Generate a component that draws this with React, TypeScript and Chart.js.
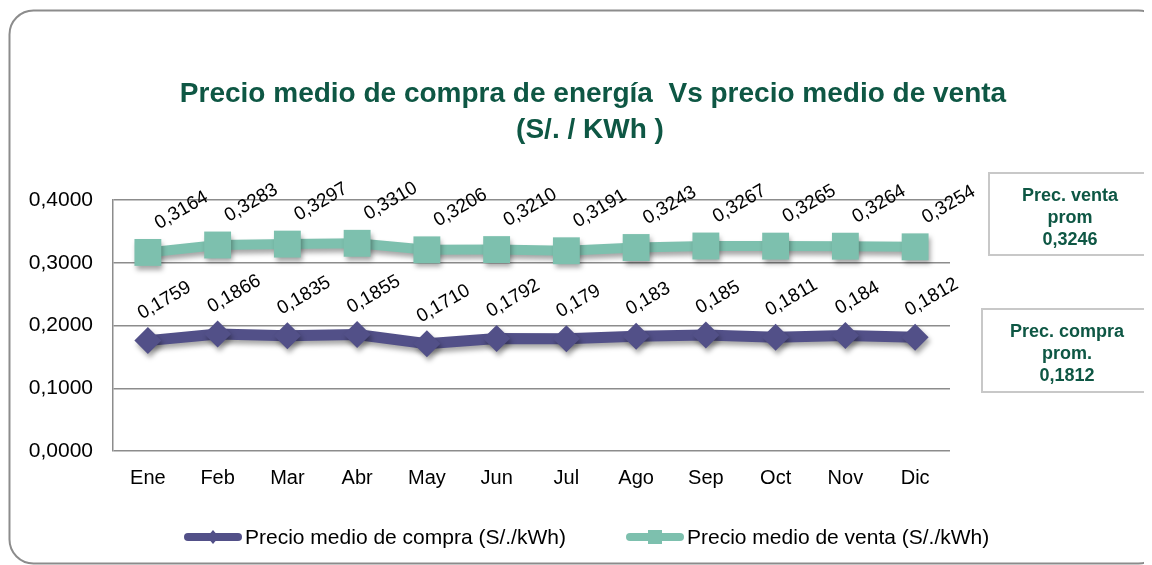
import React, { useEffect, useRef } from "react";
import { Chart, registerables } from "chart.js";

Chart.register(...registerables);

const months = ["Ene", "Feb", "Mar", "Abr", "May", "Jun", "Jul", "Ago", "Sep", "Oct", "Nov", "Dic"];
const compra = [0.1759, 0.1866, 0.1835, 0.1855, 0.171, 0.1792, 0.179, 0.183, 0.185, 0.1811, 0.184, 0.1812];
const venta = [0.3164, 0.3283, 0.3297, 0.331, 0.3206, 0.321, 0.3191, 0.3243, 0.3267, 0.3265, 0.3264, 0.3254];
const compraLabels = ["0,1759", "0,1866", "0,1835", "0,1855", "0,1710", "0,1792", "0,179", "0,183", "0,185", "0,1811", "0,184", "0,1812"];
const ventaLabels = ["0,3164", "0,3283", "0,3297", "0,3310", "0,3206", "0,3210", "0,3191", "0,3243", "0,3267", "0,3265", "0,3264", "0,3254"];
const yTicks = [0, 0.1, 0.2, 0.3, 0.4];
const seriesNames = ["Precio medio de compra (S/./kWh)", "Precio medio de venta (S/./kWh)"];
const titleLines = ["Precio medio de compra de energía  Vs precio medio de venta", "(S/. / KWh )"];
const ventaBox = ["Prec. venta", "prom", "0,3246"];
const compraBox = ["Prec. compra", "prom.", "0,1812"];

const FONT = "'Liberation Sans', Arial, sans-serif";
const C_COMPRA = "#525088";
const C_VENTA = "#7DC0AE";
const C_TITLE = "#0E5744";

const W = 1144;
const H = 557;

function roundRect(ctx: CanvasRenderingContext2D, x: number, y: number, w: number, h: number, r: number) {
  ctx.beginPath();
  ctx.moveTo(x + r, y);
  ctx.lineTo(x + w - r, y);
  ctx.arcTo(x + w, y, x + w, y + r, r);
  ctx.lineTo(x + w, y + h - r);
  ctx.arcTo(x + w, y + h, x + w - r, y + h, r);
  ctx.lineTo(x + r, y + h);
  ctx.arcTo(x, y + h, x, y + h - r, r);
  ctx.lineTo(x, y + r);
  ctx.arcTo(x, y, x + r, y, r);
  ctx.closePath();
}

const decorPlugin = {
  id: "decor",
  beforeDraw(chart: any) {
    const ctx = chart.ctx as CanvasRenderingContext2D;
    ctx.save();
    ctx.fillStyle = "#ffffff";
    ctx.fillRect(0, 0, chart.width, chart.height);
    // outer rounded frame
    ctx.strokeStyle = "#8c8c8c";
    ctx.lineWidth = 2;
    roundRect(ctx, 1.5, 2.5, 1153, 553, 24);
    ctx.stroke();
    // title
    ctx.fillStyle = C_TITLE;
    ctx.font = `bold 28px ${FONT}`;
    ctx.textAlign = "center";
    ctx.textBaseline = "middle";
    ctx.fillText(titleLines[0], 585, 86);
    ctx.fillText(titleLines[1], 582, 122);
    // side boxes
    const drawBox = (x: number, y: number, w: number, h: number, lines: string[], cx: number, ys: number[]) => {
      ctx.strokeStyle = "#c8c8c8";
      ctx.lineWidth = 2;
      ctx.strokeRect(x, y, w, h);
      ctx.fillStyle = C_TITLE;
      ctx.font = `bold 18px ${FONT}`;
      lines.forEach((t, i) => ctx.fillText(t, cx, ys[i]));
    };
    drawBox(981, 165, 157, 82, ventaBox, 1062, [188, 210, 232]);
    drawBox(974, 301, 164, 83, compraBox, 1059, [324, 346, 368]);
    // legend
    const drawLegend = (x: number, y: number, color: string, style: string, text: string) => {
      ctx.strokeStyle = color;
      ctx.lineWidth = 8;
      ctx.lineCap = "round";
      ctx.beginPath();
      ctx.moveTo(x + 4, y);
      ctx.lineTo(x + 54, y);
      ctx.stroke();
      ctx.fillStyle = color;
      ctx.beginPath();
      if (style === "diamond") {
        ctx.moveTo(x + 29, y - 7);
        ctx.lineTo(x + 35, y);
        ctx.lineTo(x + 29, y + 7);
        ctx.lineTo(x + 23, y);
        ctx.closePath();
      } else {
        ctx.rect(x + 22, y - 7, 14, 14);
      }
      ctx.fill();
      ctx.fillStyle = "#000000";
      ctx.font = `21px ${FONT}`;
      ctx.textAlign = "left";
      ctx.textBaseline = "middle";
      ctx.fillText(text, x + 61, y + 1);
    };
    drawLegend(176, 529, C_COMPRA, "diamond", seriesNames[0]);
    drawLegend(618, 529, C_VENTA, "square", seriesNames[1]);
    ctx.restore();
  },
  beforeDatasetsDraw(chart: any) {
    const ctx = chart.ctx as CanvasRenderingContext2D;
    ctx.save();
    ctx.shadowColor = "rgba(0,0,0,0.35)";
    ctx.shadowBlur = 5;
    ctx.shadowOffsetX = 2;
    ctx.shadowOffsetY = 4;
  },
  afterDatasetsDraw(chart: any) {
    const ctx = chart.ctx as CanvasRenderingContext2D;
    ctx.restore();
    ctx.save();
    ctx.fillStyle = "#000000";
    ctx.font = `19px ${FONT}`;
    ctx.textAlign = "left";
    ctx.textBaseline = "alphabetic";
    const labelSets = [compraLabels, ventaLabels];
    const offsets = [[-6, -21], [11, -23]];
    chart.data.datasets.forEach((_: any, di: number) => {
      const meta = chart.getDatasetMeta(di);
      meta.data.forEach((pt: any, i: number) => {
        ctx.save();
        ctx.translate(pt.x + offsets[di][0], pt.y + offsets[di][1]);
        ctx.rotate((-30 * Math.PI) / 180);
        ctx.fillText(labelSets[di][i], 0, 0);
        ctx.restore();
      });
    });
    ctx.restore();
  },
};

export default function App() {
  const ref = useRef<HTMLCanvasElement | null>(null);
  useEffect(() => {
    if (!ref.current) return;
    const chart = new Chart(ref.current, {
      type: "line",
      data: {
        labels: months,
        datasets: [
          {
            label: seriesNames[0],
            data: compra,
            borderColor: C_COMPRA,
            backgroundColor: C_COMPRA,
            borderWidth: 11,
            pointStyle: "rectRot",
            pointRadius: 13.5,
            pointBorderWidth: 0,
            pointBackgroundColor: C_COMPRA,
            tension: 0,
          },
          {
            label: seriesNames[1],
            data: venta,
            borderColor: C_VENTA,
            backgroundColor: C_VENTA,
            borderWidth: 10,
            pointStyle: "rect",
            pointRadius: 19,
            pointBorderWidth: 0,
            pointBackgroundColor: C_VENTA,
            tension: 0,
          },
        ],
      },
      options: {
        animation: false,
        responsive: false,
        events: [],
        layout: { padding: { left: 0, top: 192, right: 202, bottom: 74 } },
        plugins: {
          legend: { display: false },
          title: { display: false },
          tooltip: { enabled: false },
        },
        scales: {
          x: {
            type: "category",
            offset: true,
            grid: { display: false, drawTicks: false },
            border: { display: false },
            ticks: { color: "#000", font: { family: FONT, size: 20 }, padding: 15 },
            afterFit: (s: any) => {
              s.height = 40;
            },
          },
          y: {
            min: 0,
            max: 0.4,
            afterBuildTicks: (s: any) => {
              s.ticks = yTicks.map((v) => ({ value: v }));
            },
            grid: { color: "#8c8c8c", lineWidth: 1.5, drawTicks: false },
            border: { display: true, color: "#8c8c8c", width: 1.5 },
            ticks: {
              color: "#000",
              font: { family: FONT, size: 21 },
              padding: 20,
              callback: (v: any) => Number(v).toFixed(4).replace(".", ","),
            },
            afterFit: (s: any) => {
              s.width = 105;
            },
          },
        },
      },
      plugins: [decorPlugin],
    });
    return () => chart.destroy();
  }, []);
  return (
    <div style={{ width: W, height: H }}>
      <canvas ref={ref} width={W} height={H} style={{ display: "block" }} />
    </div>
  );
}
